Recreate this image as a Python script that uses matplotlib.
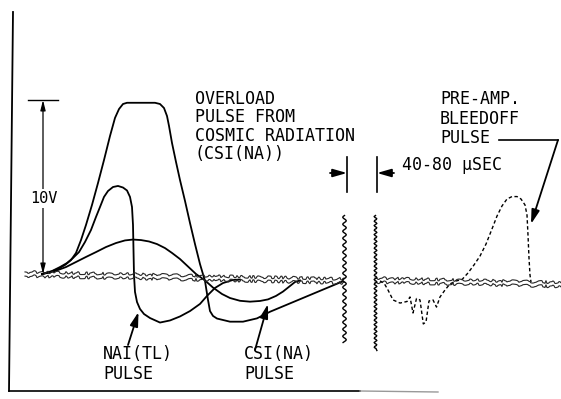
import matplotlib
matplotlib.use("Agg")
import matplotlib.pyplot as plt

# picture size and vertical scale of the scope trace
W, H = 561, 399
BASE_PX = 274        # pixel row of the 0 V baseline
PX_PER_VOLT = 17.4   # 10 V marker spans 174 px

# --- traces: time (arbitrary units) and volts ---
overload_t = [42, 50, 58, 65, 71, 76, 81, 86, 92, 98, 104, 110, 115, 119, 123, 127,
              155, 160, 164, 167, 169, 172, 176, 180, 185, 190, 195, 200, 205, 208,
              210, 213, 217, 230, 243, 257, 270, 342]
overload_v = [0, 0.11, 0.29, 0.52, 0.80, 1.21, 1.95, 2.82, 3.97, 5.23, 6.55, 7.93,
              8.97, 9.48, 9.77, 9.84, 9.84, 9.77, 9.54, 9.08, 8.51, 7.53, 6.44, 5.40,
              4.20, 2.93, 1.72, 0.57, -0.40, -1.49, -2.13, -2.41, -2.56, -2.74, -2.74,
              -2.55, -2.17, -0.44]

nai_t = [42, 52, 60, 67, 73, 79, 85, 91, 96, 100, 104, 108, 113, 118, 123, 127, 130,
         132, 133, 133.5, 134, 135, 137, 140, 144, 150, 160, 170, 180, 190, 200, 207,
         215, 223, 233, 240]
nai_v = [0, 0.17, 0.40, 0.63, 0.92, 1.26, 1.84, 2.53, 3.28, 3.85, 4.43, 4.77, 5.00,
         5.06, 4.97, 4.80, 4.43, 3.85, 2.82, 1.38, -0.06, -1.03, -1.61, -2.01, -2.30,
         -2.53, -2.79, -2.67, -2.44, -2.13, -1.72, -1.26, -0.80, -0.52, -0.34, -0.32]

csi_t = [42, 50, 58, 66, 76, 86, 96, 106, 116, 125, 133, 141, 149, 157, 165, 172, 180,
         188, 196, 205, 213, 222, 230, 240, 250, 260, 268, 276, 283, 290, 295, 300]
csi_v = [0, 0.09, 0.23, 0.40, 0.69, 0.98, 1.26, 1.55, 1.78, 1.93, 1.98, 1.95, 1.87,
         1.72, 1.49, 1.21, 0.86, 0.43, 0, -0.37, -0.78, -1.15, -1.38, -1.54, -1.59,
         -1.55, -1.46, -1.26, -1.01, -0.69, -0.46, -0.37]

bleed_t = [380, 384, 388, 393, 400, 407, 410, 413, 416.5, 420, 423.3, 426, 429, 433,
           436.5, 440, 445, 450, 456, 462, 468, 474, 480, 486, 492, 497, 502, 507, 512,
           517, 521, 525, 527, 528, 529, 530, 531]
bleed_v = [-0.40, -0.52, -0.92, -1.49, -1.67, -1.58, -1.32, -2.24, -1.41, -1.49, -2.87,
           -2.76, -1.55, -1.49, -1.90, -1.32, -0.92, -0.57, -0.40, -0.32, 0.06, 0.52,
           1.03, 1.72, 2.59, 3.33, 3.91, 4.31, 4.45, 4.45, 4.31, 3.97, 3.39, 2.24, 0.92,
           -0.06, -0.46]

# noisy baseline before and after the time break
base_left_t = [25, 344]
base_left_v = [0.0, -0.40]
base_right_t = [375, 561]
base_right_v = [-0.35, -0.60]

# break marks (the 40-80 usec gap)
break_t = [344, 375]
break_top_v = [3.39, 3.39]
break_bot_v = [-3.91, -4.37]
break_wiggle = [(1.8, 7, 1.0), (1.4, 4.5, 1.0)]

fig = plt.figure(figsize=(W / 100, H / 100), dpi=100)

# data axes in time / volts
ax = fig.add_axes([0, 0, 1, 1])
ax.set_xlim(0, W)
ax.set_ylim((BASE_PX - H) / PX_PER_VOLT, BASE_PX / PX_PER_VOLT)
ax.axis("off")

lw = 1.3
ax.plot(overload_t, overload_v, color="black", lw=lw, solid_joinstyle="round")
ax.plot(nai_t, nai_v, color="black", lw=lw, solid_joinstyle="round")
ax.plot(csi_t, csi_v, color="black", lw=lw, solid_joinstyle="round")
ax.plot(bleed_t, bleed_v, color="black", lw=1.0, linestyle=(0, (2.5, 1.8)))

for off in (0.12, -0.12):
    for bt, bv in ((base_left_t, base_left_v), (base_right_t, base_right_v)):
        ln, = ax.plot(bt, [v + off for v in bv], color="0.15", lw=0.8)
        ln.set_sketch_params(1.4, 12, 6)

for t, v0, v1, wig in zip(break_t, break_top_v, break_bot_v, break_wiggle):
    ln, = ax.plot([t, t], [v0, v1], color="black", lw=1.0)
    ln.set_sketch_params(*wig)

# overlay axes in picture pixels for the lettering and leaders
ov = fig.add_axes([0, 0, 1, 1])
ov.set_xlim(0, W)
ov.set_ylim(H, 0)
ov.axis("off")
ov.patch.set_alpha(0)

# frame edges
ov.plot([13, 9], [12, 391], color="black", lw=1.3)
ov.plot([9, 360], [391, 391], color="black", lw=1.2)
ov.plot([360, 438], [391, 392], color="0.6", lw=1.0)

ink = "black"
font = dict(family="DejaVu Sans Mono", size=12, color=ink, va="baseline")

def leader(tail, tip):
    ov.annotate("", xy=tip, xytext=tail,
                arrowprops=dict(arrowstyle="-|>,head_length=0.7,head_width=0.2",
                                color=ink, lw=1.3, shrinkA=0, shrinkB=0,
                                mutation_scale=12))

# 10 V marker
ov.plot([28, 58], [100, 100], color=ink, lw=1.0)
ov.annotate("", xy=(43, 100), xytext=(43, 274),
            arrowprops=dict(arrowstyle="<|-|>,head_length=0.6,head_width=0.15",
                            color=ink, lw=0.9, shrinkA=0, shrinkB=0, mutation_scale=10))
ov.text(30, 203, "10V", family="DejaVu Sans Mono", size=11, color=ink,
        va="baseline", zorder=5,
        bbox=dict(facecolor="white", edgecolor="none", pad=1.5))

# overload label
for i, line in enumerate(["OVERLOAD", "PULSE FROM", "COSMIC RADIATION", "(CSI(NA))"]):
    ov.text(195, 104 + 18.4 * i, line, **font)

# pre-amp label with leader
for i, line in enumerate(["PRE-AMP.", "BLEEDOFF", "PULSE"]):
    ov.text(440, 104 + 19.5 * i, line, **font)
ov.plot([499, 558], [140, 140], color=ink, lw=1.2)
leader((558, 140), (531, 224))

# break width
ov.plot([347, 347], [157, 192], color=ink, lw=1.2)
ov.plot([377, 377], [157, 192], color=ink, lw=1.2)
leader((330, 173), (347, 173))
leader((394, 173), (377, 173))
ov.text(402, 170, "40-80 \u00b5SEC", **font)

# crystal labels
ov.text(103, 359, "NAI(TL)", **font)
ov.text(103, 379, "PULSE", **font)
leader((128, 345), (138.5, 312))
ov.text(244, 359, "CSI(NA)", **font)
ov.text(244, 379, "PULSE", **font)
leader((255, 350), (268, 304))

fig.savefig("out.png", dpi=100, facecolor="white")
